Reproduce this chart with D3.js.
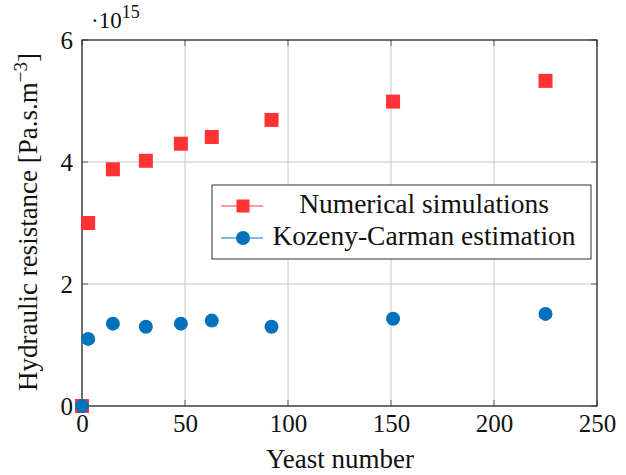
<!DOCTYPE html>
<html>
<head>
<meta charset="utf-8">
<script src="https://cdn.jsdelivr.net/npm/d3@7"></script>
<style>
  body { margin: 0; background: #fff; }
  svg text { font-family: "Liberation Serif", "Times New Roman", serif; fill: #111; }
</style>
</head>
<body>
<svg id="vis" width="626" height="475"></svg>
<script>
// yeast counts and hydraulic resistance (x 1e15 Pa.s.m^-3)
var yeast = [0, 3, 15, 31, 48, 63, 92, 151, 225];
var numerical = [0, 3.0, 3.88, 4.02, 4.30, 4.41, 4.69, 4.99, 5.33];
var kozeny = [0, 1.10, 1.35, 1.30, 1.35, 1.40, 1.30, 1.43, 1.51];
var xTicks = [0, 50, 100, 150, 200, 250];
var yTicks = [0, 2, 4, 6];

var svg = d3.select("#vis");
var pLeft = 82, pRight = 597, pTop = 40, pBottom = 406;

var x = d3.scaleLinear().domain([0, 250]).range([pLeft, pRight]);
var y = d3.scaleLinear().domain([0, 6]).range([pBottom, pTop]);

// grid
var grid = svg.append("g");
grid.selectAll("line.gx").data(xTicks).enter().append("line")
    .attr("x1", d => x(d)).attr("x2", d => x(d))
    .attr("y1", pTop).attr("y2", pBottom)
    .attr("stroke", "#c8c8c8").attr("stroke-width", 1);
grid.selectAll("line.gy").data(yTicks).enter().append("line")
    .attr("x1", pLeft).attr("x2", pRight)
    .attr("y1", d => y(d)).attr("y2", d => y(d))
    .attr("stroke", "#c8c8c8").attr("stroke-width", 1);

// inner ticks
var tk = svg.append("g").attr("stroke", "#666").attr("stroke-width", 1);
xTicks.forEach(function(d) {
  tk.append("line").attr("x1", x(d)).attr("x2", x(d)).attr("y1", pBottom).attr("y2", pBottom - 6);
  tk.append("line").attr("x1", x(d)).attr("x2", x(d)).attr("y1", pTop).attr("y2", pTop + 6);
});
yTicks.forEach(function(d) {
  tk.append("line").attr("x1", pLeft).attr("x2", pLeft + 6).attr("y1", y(d)).attr("y2", y(d));
  tk.append("line").attr("x1", pRight).attr("x2", pRight - 6).attr("y1", y(d)).attr("y2", y(d));
});

// axes with labels
var xAxis = svg.append("g").attr("transform", "translate(0," + pBottom + ")")
    .call(d3.axisBottom(x).tickValues(xTicks).tickFormat(d3.format("d")).tickSize(0).tickPadding(8));
xAxis.select(".domain").remove();
xAxis.attr("font-family", null).attr("font-size", null);
xAxis.selectAll("text").style("font-size", "25px");

var yAxis = svg.append("g").attr("transform", "translate(" + pLeft + ",0)")
    .call(d3.axisLeft(y).tickValues(yTicks).tickFormat(d3.format("d")).tickSize(0).tickPadding(9));
yAxis.select(".domain").remove();
yAxis.attr("font-family", null).attr("font-size", null);
yAxis.selectAll("text").style("font-size", "25px");

// frame
svg.append("rect").attr("x", pLeft).attr("y", pTop)
    .attr("width", pRight - pLeft).attr("height", pBottom - pTop)
    .attr("fill", "none").attr("stroke", "#222").attr("stroke-width", 1.2);

// markers
var red = "#ff3333", blue = "#0072bd";
svg.append("g").selectAll("rect").data(yeast).enter().append("rect")
    .attr("x", (d, i) => x(d) - 7).attr("y", (d, i) => y(numerical[i]) - 7)
    .attr("width", 14).attr("height", 14)
    .attr("fill", red);
svg.append("g").selectAll("circle").data(yeast).enter().append("circle")
    .attr("cx", d => x(d)).attr("cy", (d, i) => y(kozeny[i]))
    .attr("r", 7)
    .attr("fill", blue);

// legend
var lg = svg.append("g").attr("transform", "translate(212,185)");
lg.append("rect").attr("width", 379).attr("height", 74)
    .attr("fill", "#fff").attr("stroke", "#333").attr("stroke-width", 1);
lg.append("line").attr("x1", 9).attr("x2", 51).attr("y1", 21).attr("y2", 21).attr("stroke", red);
lg.append("rect").attr("x", 24.5).attr("y", 14.5).attr("width", 13).attr("height", 13).attr("fill", red);
lg.append("text").attr("x", 212).attr("y", 28).attr("text-anchor", "middle")
    .style("font-size", "27.5px").text("Numerical simulations");
lg.append("line").attr("x1", 9).attr("x2", 51).attr("y1", 53).attr("y2", 53).attr("stroke", blue);
lg.append("circle").attr("cx", 31).attr("cy", 53).attr("r", 7).attr("fill", blue);
lg.append("text").attr("x", 212).attr("y", 60).attr("text-anchor", "middle")
    .style("font-size", "27.5px").text("Kozeny-Carman estimation");

// axis titles
svg.append("text").attr("x", 340).attr("y", 468)
    .attr("text-anchor", "middle").style("font-size", "27px").text("Yeast number");

var yl = svg.append("text")
    .attr("transform", "translate(37,222) rotate(-90)")
    .attr("text-anchor", "middle").style("font-size", "27px");
yl.append("tspan").text("Hydraulic resistance [Pa.s.m");
yl.append("tspan").attr("dy", -10).style("font-size", "19px").text("\u22123");
yl.append("tspan").attr("dy", 10).text("]");

// exponent
var ex = svg.append("text").attr("x", 91).attr("y", 28).style("font-size", "23px");
ex.append("tspan").text("\u00b710");
ex.append("tspan").attr("dy", -10).style("font-size", "18px").text("15");
</script>
</body>
</html>
